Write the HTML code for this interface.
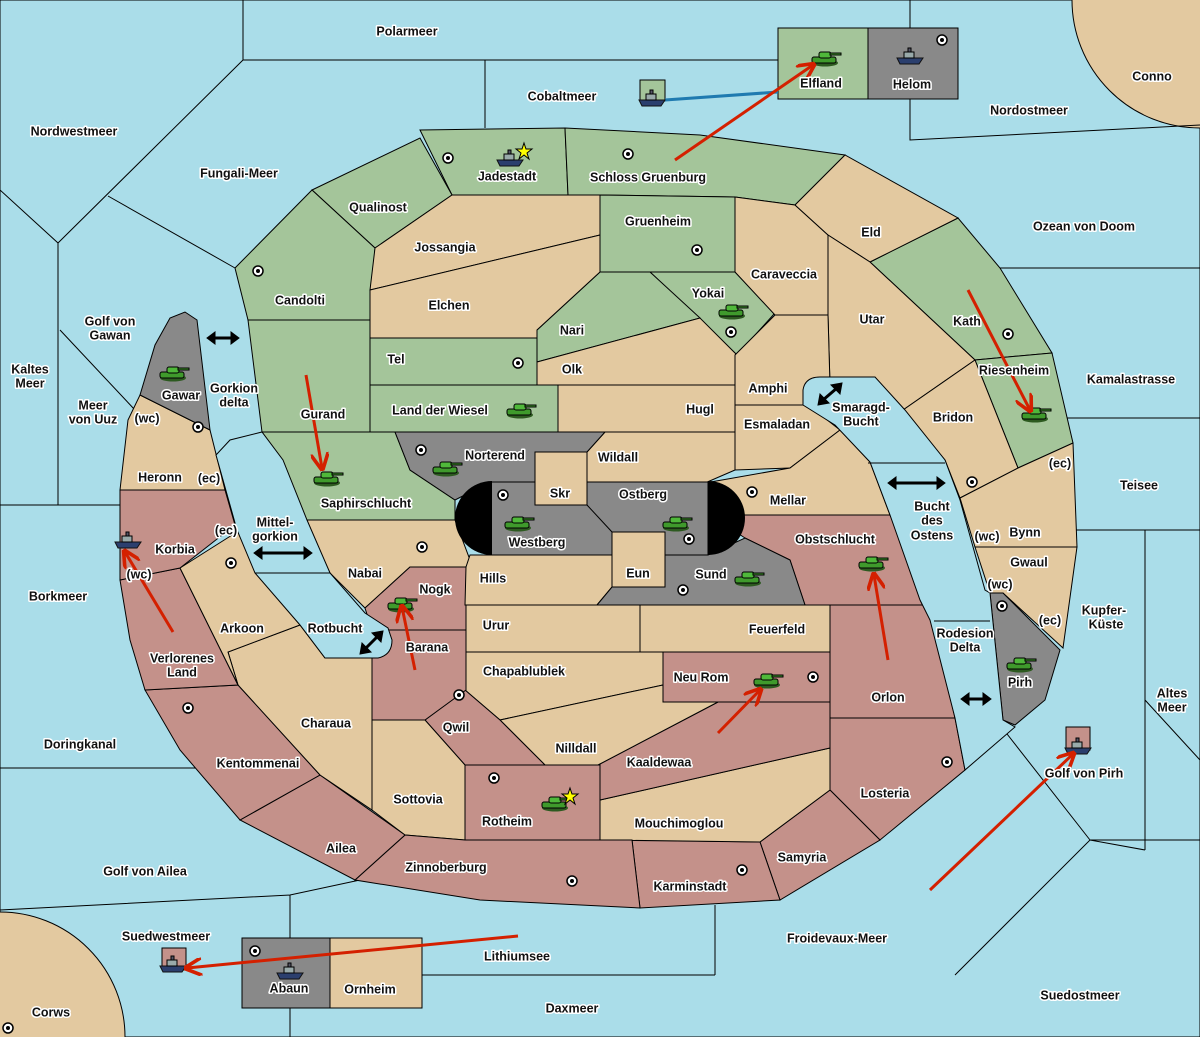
<!DOCTYPE html>
<html><head><meta charset="utf-8"><style>
html,body{margin:0;padding:0;background:#aadde9;overflow:hidden;width:1200px;height:1037px;position:relative}
svg{display:block;position:absolute;left:0;top:0}
text{font-family:"Liberation Sans","DejaVu Sans",sans-serif;font-weight:bold;font-size:12.5px;fill:#111;stroke:#fff;stroke-width:3px;paint-order:stroke;stroke-linejoin:round;text-anchor:middle;dominant-baseline:middle}
.g{fill:#a4c59a}.t{fill:#e3c9a0}.p{fill:#c4918a}.k{fill:#898989}
polygon,rect{stroke:#000;stroke-width:1}
</style></head><body>
<svg width="1200" height="1037" viewBox="0 0 1200 1037" xmlns="http://www.w3.org/2000/svg">
<defs>
<g id="tank"><ellipse cx="0" cy="5" rx="13" ry="3.5" fill="#2d5a20"/><rect x="-13" y="-1" width="24" height="6" rx="2" fill="#3f9a2c" stroke="#1f4a15"/><rect x="-6" y="-6" width="12" height="6" rx="2" fill="#4fb83a" stroke="#1f4a15"/><rect x="5" y="-5" width="11" height="2" fill="#3f9a2c" stroke="none"/></g>
<g id="ship"><path d="M-13,0 L13,0 L9,6 L-10,6 Z" fill="#2b3f6e" stroke="#111"/><rect x="-6" y="-6" width="10" height="6" fill="#9aa" stroke="#223"/><rect x="-2" y="-10" width="3" height="4" fill="#556"/></g>
<g id="dot"><circle r="5" fill="#fff" stroke="#000" stroke-width="1.5"/><circle r="2" fill="#000"/></g>
<marker id="ah" markerWidth="6" markerHeight="6" refX="5" refY="3" orient="auto"><path d="M0,0 L6,3 L0,6" fill="none" stroke="#d42000" stroke-width="1.2"/></marker>
</defs>
<rect width="1200" height="1037" fill="#aadde9"/>
<circle cx="1200" cy="0" r="128" fill="#e3c9a0" stroke="#000"/>
<circle cx="0" cy="1037" r="125" fill="#e3c9a0" stroke="#000"/>
<g fill="none" stroke="#000" stroke-width="1">
<path d="M243,0V60H485V128M485,60H778M910,0V28M910,99V140L1200,125"/>
<path d="M243,60L58,243M0,190L58,243V505M108,196L235,268M60,330L135,410M0,505H120M0,768H205"/>
<path d="M0,910L290,895V1037M290,895L360,880M420,975H715M715,905V975M955,975L1090,840L1145,850M1145,530V850M1145,700L1200,760M1000,725L1090,840"/>
<path d="M1000,268H1200M1060,418H1200M1075,530H1200M1090,840L1200,840"/>
</g>
<!-- green -->
<polygon class="g" points="420,130 565,128 568,195 452,195"/>
<polygon class="g" points="312,190 420,138 452,195 375,248"/>
<polygon class="g" points="565,128 700,135 845,155 795,205 735,197 600,195 568,195"/>
<polygon class="g" points="235,268 312,190 375,248 370,320 248,320"/>
<polygon class="g" points="600,195 735,197 735,272 600,272"/>
<polygon class="g" points="650,272 735,272 775,313 737,355"/>
<polygon class="g" points="600,272 650,272 700,318 537,362 537,330"/>
<polygon class="g" points="370,338 537,338 537,385 370,385"/>
<polygon class="g" points="370,385 558,385 558,432 370,432"/>
<polygon class="g" points="248,320 370,320 370,432 262,432"/>
<polygon class="g" points="262,432 395,432 410,470 455,500 455,520 300,520"/>
<polygon class="g" points="870,262 958,218 1000,268 1052,353 975,360"/>
<polygon class="g" points="975,360 1052,353 1073,443 1018,468"/>
<!-- tan -->
<polygon class="t" points="375,248 452,195 600,195 600,235 370,290"/>
<polygon class="t" points="370,290 600,235 600,272 537,330 537,338 370,338"/>
<polygon class="t" points="537,362 700,318 737,355 735,385 537,385"/>
<polygon class="t" points="735,197 795,205 828,235 828,315 775,315 735,272"/>
<polygon class="t" points="795,205 845,155 958,218 870,262 828,235"/>
<polygon class="t" points="828,235 870,262 975,360 903,410 875,378 830,385 828,315"/>
<polygon class="t" points="775,315 828,315 830,385 805,405 735,405 735,355"/>
<polygon class="t" points="558,385 735,385 735,432 558,432"/>
<polygon class="t" points="735,405 808,405 840,430 790,468 735,470"/>
<polygon class="t" points="605,432 735,432 735,470 705,483 587,483 587,452"/>
<polygon class="t" points="705,483 790,468 840,430 870,462 890,515 710,515"/>
<polygon class="t" points="903,410 975,360 1018,468 960,498 945,460"/>
<polygon class="t" points="960,498 1018,468 1073,443 1077,547 975,547"/>
<polygon class="t" points="975,547 1077,547 1063,648 1003,593 990,593"/>
<polygon class="k" points="990,593 1003,593 1060,650 1045,700 1015,725 1003,720"/>
<!-- pink east -->
<polygon class="p" points="710,515 890,515 930,605 805,605 790,560 745,538"/>
<polygon class="p" points="830,605 930,605 955,718 830,718"/>
<polygon class="p" points="830,718 955,718 965,770 880,840 830,790"/>
<polygon class="p" points="760,842 830,790 880,840 780,900"/>
<polygon class="p" points="632,840 760,842 780,900 640,908"/>
<polygon class="t" points="600,800 830,748 830,790 760,842 600,840"/>
<polygon class="p" points="598,765 718,702 830,702 830,748 600,800"/>
<polygon class="p" points="663,652 830,652 830,702 663,702"/>
<polygon class="t" points="640,605 830,605 830,652 640,652"/>
<polygon class="t" points="465,605 640,605 640,652 465,652"/>
<polygon class="t" points="465,652 663,652 663,685 500,720 465,690"/>
<polygon class="t" points="500,720 663,685 663,702 718,702 598,765 545,765"/>
<polygon class="p" points="425,720 465,690 500,720 545,765 465,765"/>
<polygon class="p" points="465,765 600,765 600,840 465,840"/>
<polygon class="t" points="372,720 425,720 465,765 465,840 405,835 372,810"/>
<polygon class="p" points="405,835 465,840 632,840 640,908 480,900 355,880"/>
<polygon class="p" points="240,820 320,775 405,835 355,880"/>
<polygon class="p" points="145,690 238,685 320,775 240,820 180,750"/>
<polygon class="t" points="228,652 300,625 325,658 383,658 372,700 372,810 320,775 238,685"/>
<polygon class="p" points="120,580 180,568 238,685 145,690 130,640"/>
<polygon class="t" points="180,568 240,530 280,590 300,625 228,652 238,685"/>
<polygon class="p" points="120,490 225,490 235,525 180,568 120,580"/>
<polygon class="t" points="140,395 210,430 225,490 120,490 128,420"/>
<polygon class="k" points="140,395 155,345 170,318 185,312 197,320 210,430"/>
<polygon class="t" points="305,520 455,520 470,560 466,567 410,567 365,608 330,573"/>
<polygon class="p" points="365,608 410,567 466,567 466,630 372,630"/>
<polygon class="p" points="372,630 466,630 466,690 425,720 372,720"/>
<polygon class="t" points="470,555 612,555 612,587 597,605 465,605 466,567"/>
<polygon class="k" points="597,605 612,587 665,587 665,555 708,555 745,538 790,560 805,605"/>
<polygon class="k" points="395,432 605,432 587,452 535,452 535,482 490,482 455,500 410,470"/>
<rect x="490" y="482" width="218" height="73" fill="#898989"/>
<polygon class="t" points="535,452 587,452 587,505 535,505"/>
<rect x="612" y="532" width="53" height="55" fill="#e3c9a0"/>
<path d="M587,505 L612,532" stroke="#000" fill="none"/>
<path d="M492,481 A37,37 0 0 0 492,555 Z" fill="#000"/>
<path d="M708,481 A37,37 0 0 1 708,555 Z" fill="#000"/>
<!-- waters -->
<path d="M216,455 L237,530 L255,573 L300,625 L325,658 L378,658 Q392,655 392,640 L388,628 L365,613 L330,573 L307,520 L283,460 L262,432 L230,440 Z" fill="#aadde9" stroke="#000"/>
<line x1="255" y1="573" x2="330" y2="573" stroke="#000"/>
<path d="M835,425 L803,405 L803,390 Q805,377 820,377 L875,377 L905,410 L945,460 L960,500 L985,590 L990,593 L1003,720 L1015,727 L965,770 L955,718 L930,620 L920,600 L890,515 L870,462 Z" fill="#aadde9" stroke="#000"/>
<line x1="868" y1="463" x2="945" y2="463" stroke="#000"/>
<line x1="934" y1="621" x2="990" y2="621" stroke="#000"/>
<!-- boxes -->
<rect x="778" y="28" width="90" height="71" class="g"/>
<rect x="868" y="28" width="90" height="71" class="k"/>
<rect x="640" y="80" width="25" height="21" class="g"/>
<rect x="242" y="938" width="88" height="70" class="k"/>
<rect x="330" y="938" width="92" height="70" class="t"/>
<rect x="162" y="948" width="24" height="22" class="p"/>
<rect x="1066" y="727" width="24" height="23" class="p"/>
<line x1="665" y1="100" x2="778" y2="92" stroke="#1f7ab0" stroke-width="3"/>
<!-- dots -->
<g>
<use href="#dot" x="448" y="158"/><use href="#dot" x="628" y="154"/><use href="#dot" x="697" y="250"/><use href="#dot" x="258" y="271"/><use href="#dot" x="731" y="332"/><use href="#dot" x="518" y="363"/><use href="#dot" x="1008" y="334"/><use href="#dot" x="198" y="427"/><use href="#dot" x="421" y="450"/><use href="#dot" x="503" y="495"/><use href="#dot" x="689" y="539"/><use href="#dot" x="752" y="492"/><use href="#dot" x="972" y="482"/><use href="#dot" x="422" y="547"/><use href="#dot" x="231" y="563"/><use href="#dot" x="683" y="590"/><use href="#dot" x="1002" y="606"/><use href="#dot" x="813" y="677"/><use href="#dot" x="459" y="695"/><use href="#dot" x="188" y="708"/><use href="#dot" x="947" y="762"/><use href="#dot" x="494" y="778"/><use href="#dot" x="572" y="881"/><use href="#dot" x="742" y="870"/><use href="#dot" x="942" y="40"/><use href="#dot" x="255" y="951"/><use href="#dot" x="8" y="1028"/>
</g>
<!-- tanks -->
<use href="#tank" x="825" y="58"/><use href="#tank" x="732" y="311"/><use href="#tank" x="1035" y="414"/><use href="#tank" x="173" y="373"/><use href="#tank" x="327" y="478"/><use href="#tank" x="520" y="410"/><use href="#tank" x="446" y="468"/><use href="#tank" x="518" y="523"/><use href="#tank" x="676" y="523"/><use href="#tank" x="748" y="578"/><use href="#tank" x="872" y="563"/><use href="#tank" x="401" y="604"/><use href="#tank" x="767" y="680"/><use href="#tank" x="1020" y="664"/><use href="#tank" x="555" y="803"/>
<use href="#ship" x="510" y="160"/><use href="#ship" x="652" y="100"/><use href="#ship" x="910" y="58"/><use href="#ship" x="128" y="542"/><use href="#ship" x="290" y="973"/><use href="#ship" x="173" y="966"/><use href="#ship" x="1078" y="748"/>
<polygon points="524,143 526,149 532,149 527,153 529,159 524,155 519,159 521,153 516,149 522,149" fill="#ff0" stroke="#000"/>
<polygon points="570,788 572,794 578,794 573,798 575,804 570,800 565,804 567,798 562,794 568,794" fill="#ff0" stroke="#000"/>
<!-- red arrows -->
<g stroke="#d42000" stroke-width="3" fill="none" marker-end="url(#ah)">
<line x1="675" y1="160" x2="813" y2="65"/><line x1="968" y1="290" x2="1030" y2="410"/><line x1="306" y1="375" x2="322" y2="468"/><line x1="415" y1="670" x2="402" y2="607"/><line x1="173" y1="632" x2="125" y2="552"/><line x1="888" y1="660" x2="874" y2="575"/><line x1="718" y1="733" x2="760" y2="690"/><line x1="930" y1="890" x2="1073" y2="754"/><line x1="518" y1="936" x2="187" y2="968"/>
</g>
<!-- black double arrows -->
<g stroke="#000" stroke-width="3" fill="#000">
<line x1="214" y1="338" x2="232" y2="338"/><polygon points="207,338 215,332 215,344"/><polygon points="239,338 231,332 231,344"/>
<line x1="261" y1="553" x2="305" y2="553"/><polygon points="254,553 262,547 262,559"/><polygon points="312,553 304,547 304,559"/>
<line x1="895" y1="483" x2="938" y2="483"/><polygon points="888,483 896,477 896,489"/><polygon points="945,483 937,477 937,489"/>
<line x1="968" y1="699" x2="984" y2="699"/><polygon points="961,699 969,693 969,705"/><polygon points="991,699 983,693 983,705"/>
<line x1="365" y1="649" x2="378" y2="636"/>
<line x1="823" y1="400" x2="837" y2="388"/>
</g>
<g stroke="#000" stroke-width="1" fill="#000">
<polygon points="383,631 372,633 381,642"/><polygon points="360,654 371,652 362,643"/>
<polygon points="842,383 831,385 840,394"/><polygon points="818,405 829,403 820,394"/>
</g>
<!-- labels -->
<g>
<text x="407" y="32">Polarmeer</text><text x="562" y="97">Cobaltmeer</text><text x="1152" y="77">Conno</text><text x="1029" y="111">Nordostmeer</text><text x="74" y="132">Nordwestmeer</text><text x="239" y="174">Fungali-Meer</text><text x="507" y="177">Jadestadt</text><text x="648" y="178">Schloss Gruenburg</text><text x="378" y="208">Qualinost</text><text x="1084" y="227">Ozean von Doom</text><text x="658" y="222">Gruenheim</text><text x="871" y="233">Eld</text><text x="445" y="248">Jossangia</text><text x="784" y="275">Caraveccia</text><text x="708" y="294">Yokai</text><text x="300" y="301">Candolti</text><text x="449" y="306">Elchen</text><text x="872" y="320">Utar</text><text x="967" y="322">Kath</text><text x="110" y="322">Golf von</text><text x="110" y="336">Gawan</text><text x="572" y="331">Nari</text><text x="396" y="360">Tel</text><text x="30" y="370">Kaltes</text><text x="30" y="384">Meer</text><text x="572" y="370">Olk</text><text x="1014" y="371">Riesenheim</text><text x="1131" y="380">Kamalastrasse</text><text x="768" y="389">Amphi</text><text x="234" y="389">Gorkion</text><text x="234" y="403">delta</text><text x="181" y="396">Gawar</text><text x="861" y="408">Smaragd-</text><text x="861" y="422">Bucht</text><text x="93" y="406">Meer</text><text x="93" y="420">von Uuz</text><text x="147" y="419" font-size="11">(wc)</text><text x="440" y="411">Land der Wiesel</text><text x="700" y="410">Hugl</text><text x="323" y="415">Gurand</text><text x="953" y="418">Bridon</text><text x="777" y="425">Esmaladan</text><text x="495" y="456">Norterend</text><text x="618" y="458">Wildall</text><text x="1060" y="464" font-size="11">(ec)</text><text x="160" y="478">Heronn</text><text x="209" y="479" font-size="11">(ec)</text><text x="1139" y="486">Teisee</text><text x="560" y="494">Skr</text><text x="643" y="495">Ostberg</text><text x="788" y="501">Mellar</text><text x="366" y="504">Saphirschlucht</text><text x="932" y="507">Bucht</text><text x="932" y="521">des</text><text x="932" y="536">Ostens</text><text x="275" y="523">Mittel-</text><text x="275" y="537">gorkion</text><text x="226" y="531" font-size="11">(ec)</text><text x="537" y="543">Westberg</text><text x="987" y="537" font-size="11">(wc)</text><text x="1025" y="533">Bynn</text><text x="835" y="540">Obstschlucht</text><text x="175" y="550">Korbia</text><text x="1029" y="563">Gwaul</text><text x="365" y="574">Nabai</text><text x="638" y="574">Eun</text><text x="711" y="575">Sund</text><text x="139" y="575" font-size="11">(wc)</text><text x="493" y="579">Hills</text><text x="1000" y="585" font-size="11">(wc)</text><text x="435" y="590">Nogk</text><text x="58" y="597">Borkmeer</text><text x="1104" y="611">Kupfer-</text><text x="1106" y="625">Küste</text><text x="1050" y="621" font-size="11">(ec)</text><text x="496" y="626">Urur</text><text x="777" y="630">Feuerfeld</text><text x="242" y="629">Arkoon</text><text x="335" y="629">Rotbucht</text><text x="965" y="634">Rodesion</text><text x="965" y="648">Delta</text><text x="427" y="648">Barana</text><text x="182" y="659">Verlorenes</text><text x="182" y="673">Land</text><text x="524" y="672">Chapablublek</text><text x="701" y="678">Neu Rom</text><text x="1020" y="683">Pirh</text><text x="1172" y="694">Altes</text><text x="1172" y="708">Meer</text><text x="888" y="698">Orlon</text><text x="326" y="724">Charaua</text><text x="456" y="728">Qwil</text><text x="80" y="745">Doringkanal</text><text x="576" y="749">Nilldall</text><text x="659" y="763">Kaaldewaa</text><text x="258" y="764">Kentommenai</text><text x="1084" y="774">Golf von Pirh</text><text x="885" y="794">Losteria</text><text x="418" y="800">Sottovia</text><text x="507" y="822">Rotheim</text><text x="679" y="824">Mouchimoglou</text><text x="341" y="849">Ailea</text><text x="802" y="858">Samyria</text><text x="446" y="868">Zinnoberburg</text><text x="145" y="872">Golf von Ailea</text><text x="690" y="887">Karminstadt</text><text x="166" y="937">Suedwestmeer</text><text x="837" y="939">Froidevaux-Meer</text><text x="517" y="957">Lithiumsee</text><text x="289" y="989">Abaun</text><text x="370" y="990">Ornheim</text><text x="1080" y="996">Suedostmeer</text><text x="572" y="1009">Daxmeer</text><text x="51" y="1013">Corws</text><text x="821" y="84">Elfland</text><text x="912" y="85">Helom</text>
</g>
</svg>
</body></html>
